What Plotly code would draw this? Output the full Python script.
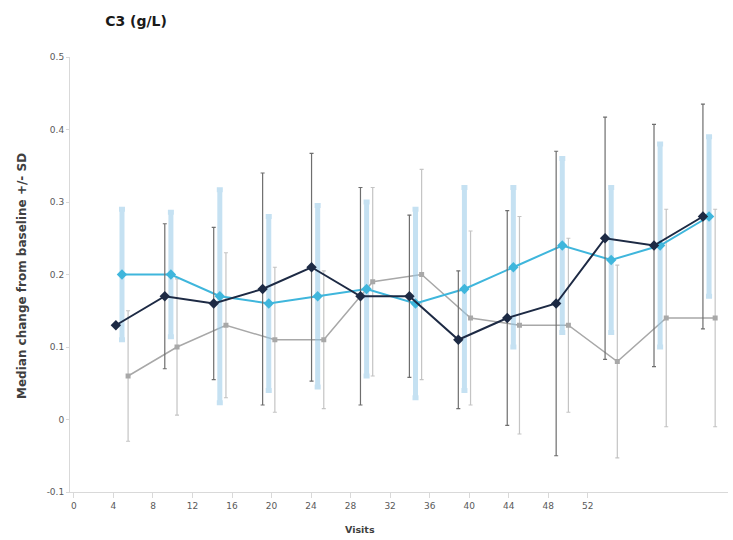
import numpy as np
import plotly.graph_objects as go

weeks = [4, 8, 12, 16, 20, 24, 28, 32, 36, 40, 44, 48, 52]
tick_weeks = [0, 4, 8, 12, 16, 20, 24, 28, 32, 36, 40, 44, 48, 52]
y_ticks = [-0.1, 0, 0.1, 0.2, 0.3, 0.4, 0.5]

dark_vals = [0.13, 0.17, 0.16, 0.18, 0.21, 0.17, 0.17, 0.11, 0.14, 0.16, 0.25, 0.24, 0.28]
dark_err = [0.0, 0.10, 0.105, 0.16, 0.157, 0.15, 0.112, 0.095, 0.148, 0.21, 0.167, 0.167, 0.155]

cyan_vals = [0.20, 0.20, 0.17, 0.16, 0.17, 0.18, 0.16, 0.18, 0.21, 0.24, 0.22, 0.24, 0.28]
cyan_err = [0.09, 0.086, 0.147, 0.12, 0.125, 0.12, 0.13, 0.14, 0.11, 0.12, 0.10, 0.14, 0.11]

gray_vals = [0.06, 0.10, 0.13, 0.11, 0.11, 0.19, 0.20, 0.14, 0.13, 0.13, 0.08, 0.14, 0.14]
gray_err = [0.09, 0.094, 0.10, 0.10, 0.095, 0.13, 0.145, 0.12, 0.15, 0.12, 0.133, 0.15, 0.15]

w = np.array(weeks, dtype=float)
FONT = "DejaVu Sans, Verdana, sans-serif"

fig = go.Figure()

# empty carrier so the labelled visits axis is drawn
fig.add_trace(go.Scatter(x=tick_weeks, y=[None] * len(tick_weeks), mode="markers",
                         xaxis="x", yaxis="y", showlegend=False, hoverinfo="skip"))

# gray series
fig.add_trace(go.Scatter(
    x=w + 0.5, y=gray_vals, mode="lines+markers",
    line=dict(color="#a8a8a8", width=1.5),
    marker=dict(symbol="square", size=5, color="#a8a8a8"),
    error_y=dict(type="data", array=gray_err, symmetric=True,
                 color="#c4c4c4", thickness=1.2, width=2),
    xaxis="x2", yaxis="y", showlegend=False))

# cyan series
fig.add_trace(go.Scatter(
    x=w, y=cyan_vals, mode="lines+markers",
    line=dict(color="#3fb6dc", width=2),
    marker=dict(symbol="diamond", size=8, color="#3fb6dc"),
    error_y=dict(type="data", array=cyan_err, symmetric=True,
                 color="rgba(150,200,232,0.55)", thickness=5, width=3),
    xaxis="x2", yaxis="y", showlegend=False))

# dark series
fig.add_trace(go.Scatter(
    x=w - 0.5, y=dark_vals, mode="lines+markers",
    line=dict(color="#1d2a44", width=2),
    marker=dict(symbol="diamond", size=8, color="#1d2a44"),
    error_y=dict(type="data", array=dark_err, symmetric=True,
                 color="#6e6e6e", thickness=1.2, width=2),
    xaxis="x2", yaxis="y", showlegend=False))

fig.update_layout(
    width=733, height=540,
    margin=dict(l=70, r=5, t=57, b=48),
    paper_bgcolor="white", plot_bgcolor="white",
    font=dict(family=FONT, size=9, color="#595959"),
    xaxis=dict(
        domain=[0, 1], anchor="y", range=[-0.40, 66.2],
        tickvals=tick_weeks, ticktext=[str(t) for t in tick_weeks],
        showline=True, linecolor="#d9d9d9", linewidth=1,
        ticks="outside", ticklen=5, tickcolor="#d9d9d9",
        showgrid=False, zeroline=False,
        tickfont=dict(size=9, color="#595959"),
    ),
    xaxis2=dict(
        domain=[0, 1], anchor="y", overlaying="x", range=[-0.25, 53.55],
        visible=False, showgrid=False, zeroline=False,
    ),
    yaxis=dict(
        anchor="x", range=[-0.1, 0.5], tickvals=y_ticks,
        ticktext=[f"{v:g}" for v in y_ticks],
        showline=True, linecolor="#d9d9d9", linewidth=1,
        ticks="outside", ticklen=3, tickcolor="#d9d9d9",
        showgrid=False, zeroline=False,
        tickfont=dict(size=9, color="#595959"),
    ),
    title=dict(text="<b>C3 (g/L)</b>", x=136 / 733, xref="container",
               y=1 - 21 / 540, yref="container", xanchor="center", yanchor="middle",
               font=dict(size=14, color="#1a1a1a", family=FONT)),
    annotations=[
        dict(text="<b>Median change from baseline +/- SD</b>",
             textangle=-90, x=(22 - 70) / 658, y=(492 - 276) / 435,
             xref="paper", yref="paper", xanchor="center", yanchor="middle",
             showarrow=False, font=dict(size=12, color="#404040", family=FONT)),
        dict(text="<b>Visits</b>", x=(360 - 70) / 658, y=-(529 - 492) / 435,
             xref="paper", yref="paper", xanchor="center", yanchor="middle",
             showarrow=False, font=dict(size=9.5, color="#404040", family=FONT)),
    ],
)

fig.write_html("out.html")
